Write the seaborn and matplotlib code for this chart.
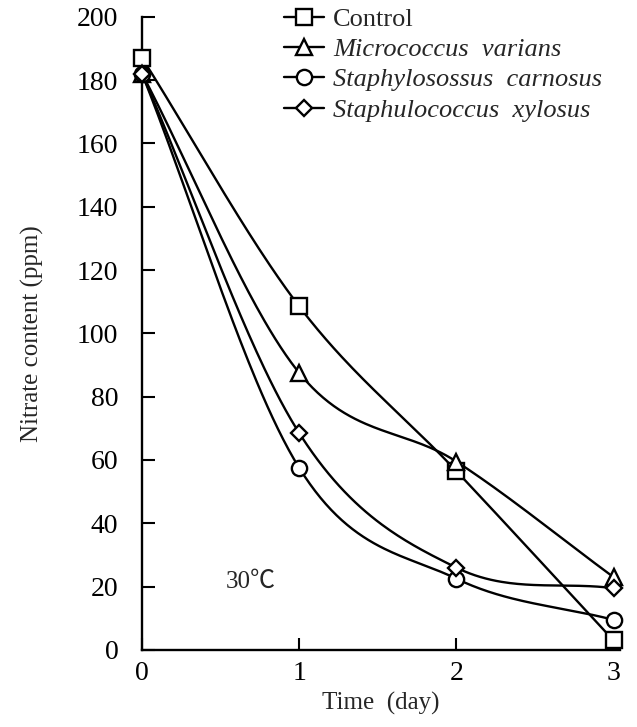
import numpy as np
import pandas as pd
import seaborn as sns
import matplotlib
matplotlib.use("Agg")
import matplotlib.pyplot as plt
from matplotlib.lines import Line2D

days = [0, 1, 2, 3]
control = [187, 108.5, 56.5, 3]
micrococcus = [182, 87.5, 59.5, 23]
carnosus = [182, 57.5, 22.5, 9.5]
xylosus = [182, 68.5, 26, 19.5]
series_names = ["Control", "Micrococcus  varians", "Staphylosossus  carnosus", "Staphulococcus  xylosus"]
series_values = [control, micrococcus, carnosus, xylosus]
series_markers = ["s", "^", "o", "D"]
series_italic = [False, True, True, True]
yticks = [0, 20, 40, 60, 80, 100, 120, 140, 160, 180, 200]
xticks = [0, 1, 2, 3]

sns.set_theme(style="ticks")
plt.rcParams["font.family"] = ["Liberation Serif", "DejaVu Serif"]

fig = plt.figure(figsize=(6.37, 7.27), dpi=100)
ax = fig.add_axes([0.223, 0.106, 0.75, 0.871])


def smooth(x, y, n=60):
    x = np.asarray(x, float)
    y = np.asarray(y, float)
    m = np.zeros_like(y)
    m[0] = (y[1] - y[0]) / (x[1] - x[0])
    m[-1] = (y[-1] - y[-2]) / (x[-1] - x[-2])
    m[1:-1] = (y[2:] - y[:-2]) / (x[2:] - x[:-2])
    xs, ys = [], []
    for i in range(len(x) - 1):
        h = x[i + 1] - x[i]
        t = np.linspace(0, 1, n)
        h00 = 2 * t**3 - 3 * t**2 + 1
        h10 = t**3 - 2 * t**2 + t
        h01 = -2 * t**3 + 3 * t**2
        h11 = t**3 - t**2
        xs.append(x[i] + t * h)
        ys.append(h00 * y[i] + h10 * h * m[i] + h01 * y[i + 1] + h11 * h * m[i + 1])
    return np.concatenate(xs), np.concatenate(ys)


handles = []
for name, vals, mk in zip(series_names, series_values, series_markers):
    sx, sy = smooth(days, vals)
    sns.lineplot(x=sx, y=sy, ax=ax, color="black", linewidth=1.7, sort=False, estimator=None)
    ms = 11 if mk != "D" else 8.5
    ax.plot(days, vals, linestyle="none", marker=mk, markersize=ms, markerfacecolor="white",
            markeredgecolor="black", markeredgewidth=1.7, zorder=5, clip_on=False)
    handles.append(Line2D([0], [0], color="black", linewidth=1.7, marker=mk, markersize=ms,
                          markerfacecolor="white", markeredgecolor="black", markeredgewidth=1.7))

ax.set_xlim(0, 3.04)
ax.set_ylim(0, 200)
ax.set_xticks(xticks)
ax.set_yticks(yticks)
ax.tick_params(axis="y", direction="in", length=9, width=1.5, labelsize=20, colors="black", pad=17)
ax.tick_params(axis="x", direction="in", length=9, width=1.5, labelsize=20, colors="black", pad=8)
for s in ["top", "right"]:
    ax.spines[s].set_visible(False)
for s in ["left", "bottom"]:
    ax.spines[s].set_linewidth(1.7)
    ax.spines[s].set_color("black")

ax.set_xlabel("Time  (day)", fontsize=18, labelpad=4)
ax.set_ylabel("Nitrate content (ppm)", fontsize=18, labelpad=24)
ax.text(0.69, 21.5, "30℃", fontsize=18, ha="center", va="center",
        family=["Liberation Serif", "Noto Sans CJK SC"])

leg = fig.legend(handles, series_names, loc="upper left", bbox_to_anchor=(0.446, 0.990), frameon=False,
                 fontsize=19, handlelength=1.5, handletextpad=0.35, labelspacing=0.26, borderaxespad=0.0,
                 borderpad=0.0)
for t, it in zip(leg.get_texts(), series_italic):
    if it:
        t.set_fontstyle("italic")

fig.savefig("out.png", dpi=100)
